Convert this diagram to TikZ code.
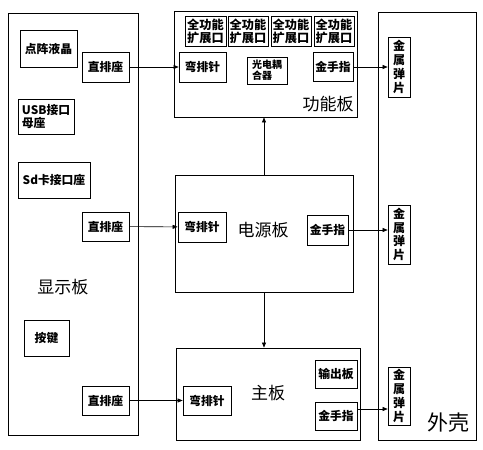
\documentclass[tikz,border=0pt]{standalone}
\usepackage{fontspec}
\setmainfont{Noto Sans CJK SC}
\usetikzlibrary{arrows.meta,positioning}

\begin{document}
\begin{tikzpicture}[
    x=1pt, y=-1pt,
    brd/.style={rectangle, draw, line width=0.8pt, inner sep=0pt},
    part/.style={rectangle, draw, line width=0.7pt, inner sep=1pt, font=\fontsize{11.8}{13}\selectfont\bfseries, align=center},
    lbl/.style={font=\fontsize{17}{17}\selectfont},
    arr/.style={-{Triangle[length=5pt,width=4pt]}, line width=0.6pt}
]
\useasboundingbox (0,0) rectangle (483,450);

% boards
\node[brd, minimum width=130pt, minimum height=422pt] (xsb) at (73,224) {};
\node[brd, minimum width=183pt, minimum height=106pt] (gnb) at (265.5,64) {};
\node[brd, minimum width=178pt, minimum height=117pt] (dyb) at (264,233.5) {};
\node[brd, minimum width=184pt, minimum height=92pt]  (zb)  at (268,394) {};
\node[brd, minimum width=98pt,  minimum height=428pt] (wk)  at (427,226) {};

% display board
\node[part, minimum width=57pt, minimum height=37pt] (dzyj) at (48.5,48.5) {点阵液晶};
\node[part, minimum width=56pt, minimum height=35pt, align=left] (usb) at (46,116.5) {USB接口\\母座};
\node[part, minimum width=72pt, minimum height=36pt] (sd) at (54,180) {Sd卡接口座};
\node[part, minimum width=45pt, minimum height=36pt] (aj) at (46.5,338) {按键};
\node[part, minimum width=47pt, minimum height=30pt] (zpz1) at (105.5,67) {直排座};
\node[part, minimum width=47pt, minimum height=29pt] (zpz2) at (105.5,226.5) {直排座};
\node[part, minimum width=47pt, minimum height=29pt] (zpz3) at (105.5,400.5) {直排座};
\node[lbl] (xsbl) at (63,287) {显示板};

% function board
\node[part, minimum width=41pt, minimum height=30pt, inner sep=0pt, font=\fontsize{12.2}{12.8}\selectfont\bfseries] (kz1) at (205.5,31) {全功能\\扩展口};
\node[part, minimum width=40pt, minimum height=30pt, inner sep=0pt, font=\fontsize{12.2}{12.8}\selectfont\bfseries] (kz2) at (248,31) {全功能\\扩展口};
\node[part, minimum width=40pt, minimum height=30pt, inner sep=0pt, font=\fontsize{12.2}{12.8}\selectfont\bfseries] (kz3) at (291,31) {全功能\\扩展口};
\node[part, minimum width=40pt, minimum height=30pt, inner sep=0pt, font=\fontsize{12.2}{12.8}\selectfont\bfseries] (kz4) at (334,31) {全功能\\扩展口};
\node[part, minimum width=47pt, minimum height=30pt] (wpz1) at (202.5,67) {弯排针};
\node[part, minimum width=40pt, minimum height=27pt, align=left, font=\fontsize{10}{11}\selectfont\bfseries] (gdoh) at (267,70.5) {光电耦\\合器};
\node[part, minimum width=40pt, minimum height=29pt] (jsz1) at (333,67) {金手指};
\node[lbl] (gnbl) at (328,104) {功能板};

% power board
\node[part, minimum width=48pt, minimum height=30pt] (wpz2) at (202,227) {弯排针};
\node[part, minimum width=41pt, minimum height=30pt] (jsz2) at (327.5,230) {金手指};
\node[lbl] (dybl) at (263,230) {电源板};

% main board
\node[part, minimum width=48pt, minimum height=29pt] (wpz3) at (207,400.5) {弯排针};
\node[part, minimum width=42pt, minimum height=28pt] (scb) at (336,374) {输出板};
\node[part, minimum width=42pt, minimum height=28pt] (jsz3) at (336,416) {金手指};
\node[lbl] (zbl) at (268,393) {主板};

% housing
\node[part, minimum width=22pt, minimum height=60pt, inner sep=0pt, font=\fontsize{12}{13.8}\selectfont\bfseries] (jspp1) at (399,67) {金\\属\\弹\\片};
\node[part, minimum width=22pt, minimum height=59pt, inner sep=0pt, font=\fontsize{12}{13.8}\selectfont\bfseries] (jspp2) at (399,234.5) {金\\属\\弹\\片};
\node[part, minimum width=22pt, minimum height=58pt, inner sep=0pt, font=\fontsize{12}{13.8}\selectfont\bfseries] (jspp3) at (399,396) {金\\属\\弹\\片};
\node[lbl, font=\fontsize{21}{21}\selectfont] (wkl) at (448,423) {外壳};

% connections
\foreach \a/\b in {zpz1/wpz1, zpz2/wpz2, zpz3/wpz3, jsz1/jspp1} {
  \draw[arr] (\a) -- (\b);
}
\draw[arr] (jsz2.east) -- (jsz2.east -| jspp2.west);
\draw[arr] ([yshift=7pt]jsz3.east) -- ([yshift=7pt]jsz3.east -| jspp3.west);
\draw[arr] (dyb.north) -- (dyb.north |- gnb.south);
\draw[arr] (dyb.south) -- (dyb.south |- zb.north);
\end{tikzpicture}
\end{document}
